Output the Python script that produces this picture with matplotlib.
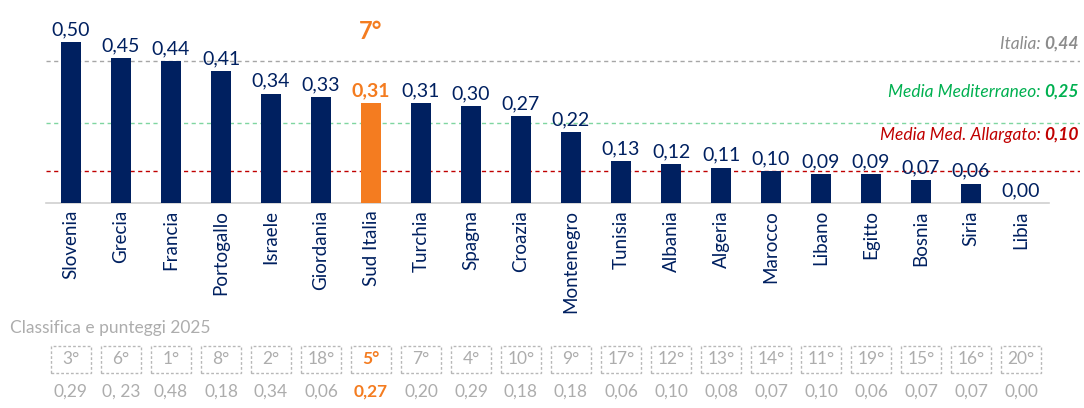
import matplotlib
matplotlib.use("Agg")
import matplotlib.pyplot as plt
from matplotlib.patches import Rectangle
from matplotlib.transforms import blended_transform_factory

plt.rcParams['font.family'] = ['Lato', 'DejaVu Sans']

countries = ["Slovenia", "Grecia", "Francia", "Portogallo", "Israele", "Giordania",
             "Sud Italia", "Turchia", "Spagna", "Croazia", "Montenegro", "Tunisia",
             "Albania", "Algeria", "Marocco", "Libano", "Egitto", "Bosnia", "Siria", "Libia"]
values = [0.50, 0.45, 0.44, 0.41, 0.34, 0.33, 0.31, 0.31, 0.30, 0.27, 0.22, 0.13,
          0.12, 0.11, 0.10, 0.09, 0.09, 0.07, 0.06, 0.00]
value_labels = ["0,50", "0,45", "0,44", "0,41", "0,34", "0,33", "0,31", "0,31", "0,30", "0,27",
                "0,22", "0,13", "0,12", "0,11", "0,10", "0,09", "0,09", "0,07", "0,06", "0,00"]
rank_2025 = ["3°", "6°", "1°", "8°", "2°", "18°", "5°", "7°", "4°", "10°", "9°", "17°",
             "12°", "13°", "14°", "11°", "19°", "15°", "16°", "20°"]
score_2025 = ["0,29", "0, 23", "0,48", "0,18", "0,34", "0,06", "0,27", "0,20", "0,29", "0,18",
              "0,18", "0,06", "0,10", "0,08", "0,07", "0,10", "0,06", "0,07", "0,07", "0,00"]
highlight = "Sud Italia"
highlight_rank = "7°"
ref_lines = [("Italia: ", "0,44", 0.44), ("Media Mediterraneo: ", "0,25", 0.25),
             ("Media Med. Allargato: ", "0,10", 0.10)]

NAVY = "#002060"
ORANGE = "#F47C20"
LIGHTGRAY = "#ADADAD"
ref_colors = {"0,44": ("#8C8C8C", "#A6A6A6"), "0,25": ("#00B050", "#7FD6A0"),
              "0,10": ("#C00000", "#C00000")}

W, H = 1084, 408
fig = plt.figure(figsize=(W / 100, H / 100), dpi=100)

x0_px, step_px = 71, 50
base_px = 203
scale_px = 322
left_px = 46
right_px = 1080
xmin = (left_px - x0_px) / step_px
xmax = (right_px - x0_px) / step_px
ymax = base_px / scale_px
ax = fig.add_axes([left_px / W, (H - base_px) / H, (right_px - left_px) / W, base_px / H])
ax.set_xlim(xmin, xmax)
ax.set_ylim(0, ymax)
ax.axis("off")

xs = list(range(len(countries)))
colors = [ORANGE if c == highlight else NAVY for c in countries]
ax.bar(xs, values, width=0.4, color=colors, zorder=3)

ax.plot([xmin, (1049 - x0_px) / step_px], [0, 0], color="#D0D0D0", lw=1.2, zorder=2, clip_on=False)

for _, key, val in ref_lines:
    ax.axhline(val, color=ref_colors[key][1], lw=1.0, ls=(0, (3, 2.5)), zorder=1)

for x, v, lab, c in zip(xs, values, value_labels, countries):
    if c == highlight:
        ax.text(x, v + 0.012, lab, ha="center", va="bottom", color=ORANGE, fontsize=14,
                fontweight="bold")
        ax.text(x, 0.497, highlight_rank, ha="center", va="bottom", color=ORANGE, fontsize=17,
                fontweight="bold")
    else:
        ax.text(x, v + 0.012, lab, ha="center", va="bottom", color=NAVY, fontsize=14)

for x, c in zip(xs, countries):
    ax.text(x, -0.022, c, rotation=90, ha="center", va="top", color=NAVY, fontsize=13.5)

renderer = fig.canvas.get_renderer()
label_y_px = {"0,44": 44, "0,25": 92, "0,10": 135}
for name, key, val in ref_lines:
    col = ref_colors[key][0]
    yf = (H - label_y_px[key]) / H
    t_bold = fig.text(1079 / W, yf, key, ha="right", va="center", color=col, fontsize=12.5,
                      fontweight="bold", fontstyle="italic")
    bb = t_bold.get_window_extent(renderer)
    fig.text(bb.x0 / W, yf, name, ha="right", va="center", color=col, fontsize=12.5,
             fontstyle="italic")

fig.text(10 / W, (H - 328) / H, "Classifica e punteggi 2025", ha="left", va="center",
         color=LIGHTGRAY, fontsize=12.5)
tr = blended_transform_factory(ax.transData, fig.transFigure)
box_w = 40 / step_px
box_top, box_bot = 346, 373
for x, r, s, c in zip(xs, rank_2025, score_2025, countries):
    hl = c == highlight
    rect = Rectangle((x - box_w / 2, (H - box_bot) / H), box_w, (box_bot - box_top) / H,
                     transform=tr, fill=False, edgecolor="#B8B8B8", lw=1.0,
                     ls=(0, (2, 1.5)), clip_on=False)
    fig.add_artist(rect)
    ax.text(x, (H - (box_top + box_bot) / 2) / H, r, transform=tr, ha="center", va="center",
            color=ORANGE if hl else LIGHTGRAY, fontsize=12.5,
            fontweight="bold" if hl else "normal", clip_on=False)
    ax.text(x, (H - 392) / H, s, transform=tr, ha="center", va="center",
            color=ORANGE if hl else LIGHTGRAY, fontsize=12.5,
            fontweight="bold" if hl else "normal", clip_on=False)

fig.savefig("out.png", dpi=100)
